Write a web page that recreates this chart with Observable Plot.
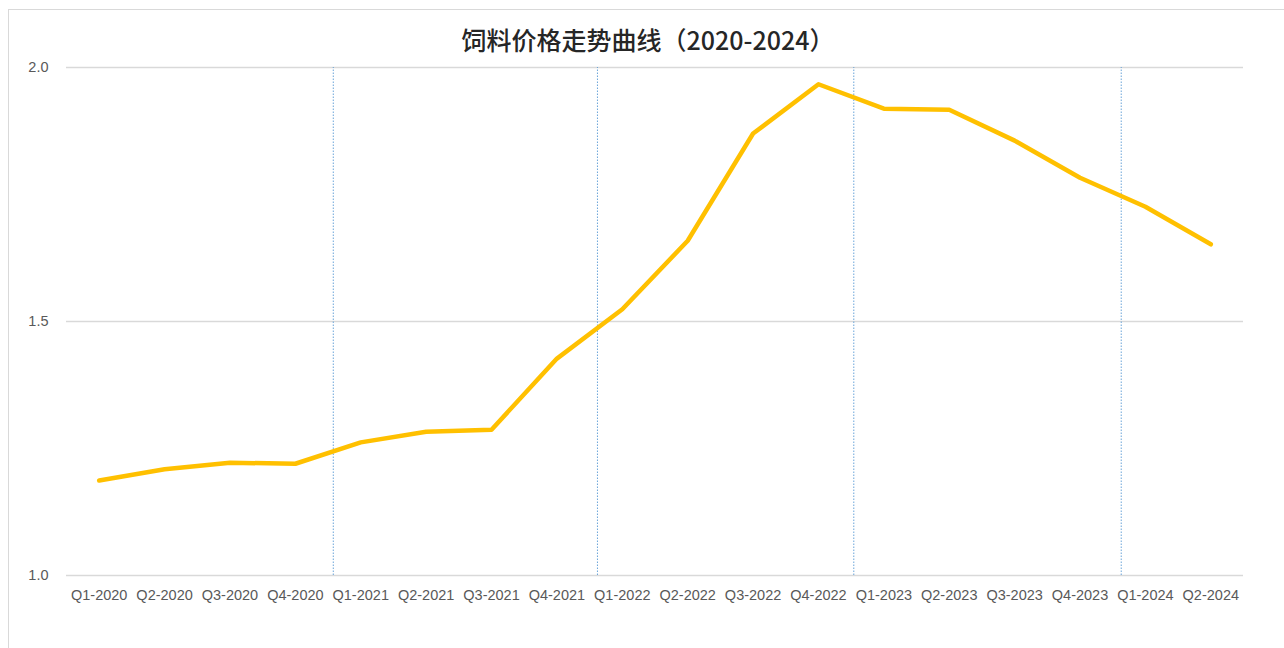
<!DOCTYPE html>
<html>
<head>
<meta charset="utf-8">
<script src="https://cdn.jsdelivr.net/npm/d3@7"></script>
<script src="https://cdn.jsdelivr.net/npm/@observablehq/plot@0.6"></script>
<style>
  html, body { margin: 0; padding: 0; background: #fff; overflow: hidden; width: 1284px; height: 648px; }
  #frame { position: absolute; left: 8px; top: 9px; width: 1300px; height: 700px; border: 1px solid #d9d9d9; box-sizing: border-box; }
  #title { position: absolute; left: 0; top: 21px; width: 1296px; text-align: center; font-family: "Noto Sans CJK SC", sans-serif; font-size: 25px; font-weight: 500; color: #262626; }
  #chart { position: absolute; left: 0; top: 0; }
</style>
</head>
<body>
<div id="frame"></div>
<div id="chart"></div>
<div id="title">饲料价格走势曲线（2020-2024）</div>
<script>
const quarters = ["Q1-2020","Q2-2020","Q3-2020","Q4-2020","Q1-2021","Q2-2021","Q3-2021","Q4-2021","Q1-2022","Q2-2022","Q3-2022","Q4-2022","Q1-2023","Q2-2023","Q3-2023","Q4-2023","Q1-2024","Q2-2024"];
const prices = [1.187, 1.209, 1.222, 1.220, 1.262, 1.283, 1.287, 1.427, 1.524, 1.659, 1.870, 1.967, 1.919, 1.917, 1.856, 1.783, 1.726, 1.652];
const yTicks = [1.0, 1.5, 2.0];
const yearMarks = [3.58, 7.62, 11.54, 15.63];

const data = quarters.map((q, i) => ({i, q, v: prices[i]}));

const chart = Plot.plot({
  width: 1284,
  height: 648,
  marginTop: 67,
  marginBottom: 73,
  marginLeft: 66,
  marginRight: 41,
  style: {fontFamily: "'Liberation Sans', Arial, sans-serif", fontSize: "14.5px", color: "#595959", background: "transparent"},
  x: {type: "linear", domain: [-0.5, 17.5], label: null},
  y: {domain: [1, 2], label: null},
  marks: [
    Plot.ruleY(yTicks, {stroke: "#d9d9d9", strokeWidth: 1.5}),
    Plot.ruleX(yearMarks, {y1: 1, y2: 2, stroke: "#5b9bd5", strokeWidth: 1, strokeDasharray: "1.5,1.5", strokeOpacity: 0.9}),
    Plot.axisY({ticks: yTicks, tickFormat: d => d.toFixed(1), tickSize: 0, tickPadding: 18, fill: "#595959"}),
    Plot.axisX({ticks: d3.range(quarters.length), tickFormat: i => quarters[i], tickSize: 0, tickPadding: 14, fill: "#595959"}),
    Plot.line(data, {x: "i", y: "v", stroke: "#ffc000", strokeWidth: 4.5, strokeLinejoin: "round", strokeLinecap: "round"})
  ]
});
document.getElementById("chart").appendChild(chart);
</script>
</body>
</html>
